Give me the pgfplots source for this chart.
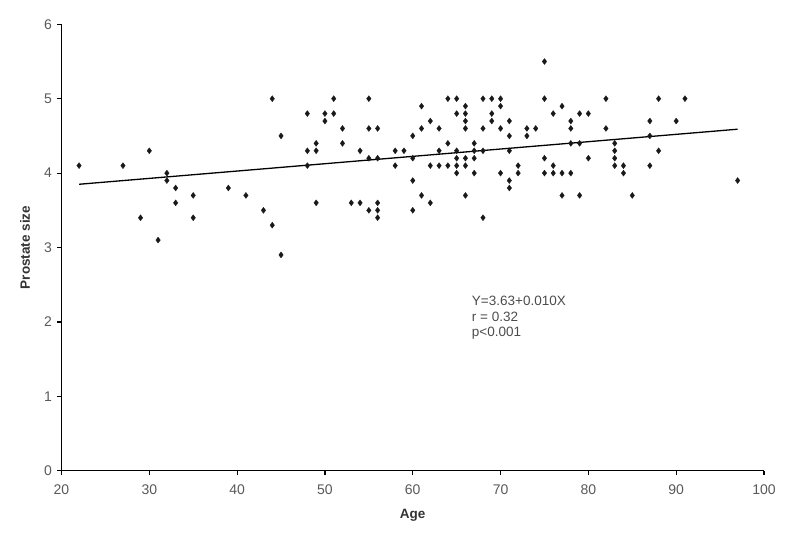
\documentclass[border=0pt]{standalone}
\usepackage{fontspec}
\setmainfont{Liberation Sans}
\usepackage{pgfplots}
\pgfplotsset{compat=1.18}

% age, prostate size
\pgfplotstableread{
x y
22 4.1
27 4.1
29 3.4
30 4.3
31 3.1
32 4.0
32 3.9
33 3.8
33 3.6
35 3.7
35 3.4
39 3.8
41 3.7
43 3.5
44 5.0
44 3.3
45 4.5
45 2.9
48 4.8
48 4.3
48 4.1
49 4.4
49 4.3
49 3.6
50 4.8
50 4.7
51 5.0
51 4.8
52 4.6
52 4.4
53 3.6
54 4.3
54 3.6
55 5.0
55 4.6
55 4.2
55 3.5
56 4.6
56 4.2
56 3.6
56 3.5
56 3.4
58 4.3
58 4.1
59 4.3
60 4.5
60 4.2
60 3.9
60 3.5
61 4.9
61 4.6
61 3.7
62 4.7
62 4.1
62 3.6
63 4.6
63 4.3
63 4.1
64 5.0
64 4.4
64 4.1
65 5.0
65 4.8
65 4.3
65 4.2
65 4.1
65 4.0
66 4.9
66 4.8
66 4.7
66 4.6
66 4.2
66 4.1
66 3.7
67 4.4
67 4.3
67 4.2
67 4.0
68 5.0
68 4.6
68 4.3
68 3.4
69 5.0
69 4.8
69 4.7
70 5.0
70 4.9
70 4.6
70 4.0
71 4.7
71 4.5
71 4.3
71 3.9
71 3.8
72 4.1
72 4.0
73 4.6
73 4.5
74 4.6
75 5.5
75 5.0
75 4.2
75 4.0
76 4.8
76 4.1
76 4.0
77 4.9
77 4.0
77 3.7
78 4.7
78 4.6
78 4.4
78 4.0
79 4.8
79 4.4
79 3.7
80 4.8
80 4.2
82 5.0
82 4.6
83 4.4
83 4.3
83 4.2
83 4.1
84 4.1
84 4.0
85 3.7
87 4.7
87 4.5
87 4.1
88 5.0
88 4.3
90 4.7
91 5.0
97 3.9
}\points

\begin{document}
\begin{tikzpicture}
\path[use as bounding box] (-61.5pt,-62.3pt) rectangle (726.5pt,470.7pt);
\begin{axis}[
    at={(0,0)}, anchor=south west,
    scale only axis,
    width=702.5pt, height=446.4pt,
    xmin=20, xmax=100, ymin=0, ymax=6,
    axis x line=bottom, axis y line=left,
    axis line style={line width=1.6pt, -},
    xtick={20,30,...,100}, ytick={0,1,...,6},
    tick align=outside, major tick length=4pt,
    tick style={line width=1.2pt, black},
    ticklabel style={font=\fontsize{14}{16}\selectfont, text=black!65},
    xticklabel style={yshift=-6pt},
    yticklabel style={xshift=-2pt},
    /pgf/number format/assume math mode=true,
    xlabel={Age}, ylabel={Prostate size},
    label style={font=\fontsize{13.5}{16}\selectfont\bfseries, text=black!80},
    xlabel style={at={(axis description cs:0.5,-0.0992)}, anchor=center},
    ylabel style={at={(axis description cs:-0.052,0.5)}, anchor=center},
    clip=false,
]
\addplot[only marks, mark=diamond*, mark size=3pt, mark options={fill=black!90, draw=black!90, line width=0.3pt}]
    table[x=x, y=y] {\points};
% fitted line Y = 3.63 + 0.010X
\addplot[black, line width=1.3pt] coordinates {(22,3.85) (97,4.59)};

\node[anchor=base west, inner sep=0pt, font=\fontsize{13.5}{16}\selectfont, text=black!70]
    at (axis cs:66.72,2.227) {Y=3.63+0.010X};
\node[anchor=base west, inner sep=0pt, font=\fontsize{13.5}{16}\selectfont, text=black!70]
    at (axis cs:66.72,2.012) {r = 0.32};
\node[anchor=base west, inner sep=0pt, font=\fontsize{13.5}{16}\selectfont, text=black!70]
    at (axis cs:66.72,1.81) {p<0.001};
\end{axis}
\end{tikzpicture}
\end{document}
